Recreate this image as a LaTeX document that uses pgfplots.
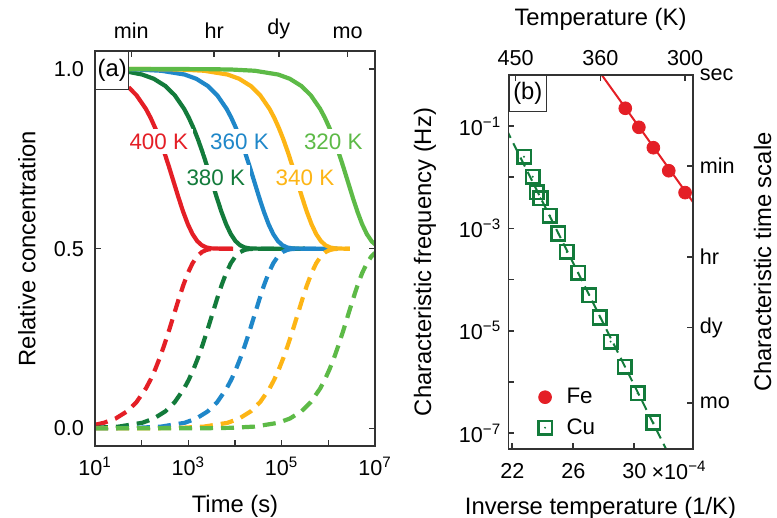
\documentclass[border=0pt]{standalone}
\usepackage{fontspec}
\setmainfont{Liberation Sans}
\usepackage{pgfplots}
\pgfplotsset{compat=1.18}

\definecolor{cRed}{HTML}{E41F26}
\definecolor{cDkGreen}{HTML}{137B3B}
\definecolor{cBlue}{HTML}{1F87C9}
\definecolor{cOrange}{HTML}{FDB515}
\definecolor{cLtGreen}{HTML}{5DBA47}
\definecolor{cFrame}{HTML}{333333}

% open square with a centre dot (Cu markers)
\pgfdeclareplotmark{sqdot}{%
  \pgfpathrectangle{\pgfqpoint{-\pgfplotmarksize}{-\pgfplotmarksize}}{\pgfqpoint{2\pgfplotmarksize}{2\pgfplotmarksize}}%
  \pgfusepathqstroke
  \pgfpathcircle{\pgfpointorigin}{0.55pt}%
  \pgfusepathqfill}

\newcommand{\tickfont}{\fontsize{10.8}{12}\selectfont}
\newcommand{\labfont}{\fontsize{11.9}{14}\selectfont}
\newcommand{\annfont}{\fontsize{11.2}{13}\selectfont}

\pgfplotsset{
  common/.style={
    scale only axis, anchor=south west, clip mode=individual,
    axis line style={cFrame, line width=0.8pt},
    major tick style={cFrame, line width=0.8pt},
    tick align=inside, major tick length=3pt, minor tick length=0pt,
    tick label style={font=\tickfont, text=black},
    label style={font=\labfont},
  },
  sol/.style={line width=2.1pt},
  das/.style={line width=2.1pt, dash pattern=on 6.5pt off 4pt},
}

\begin{document}
\begin{tikzpicture}
\path[use as bounding box] (0,0) rectangle (388.5pt,259pt);

% ---------------- panel (a): relative concentration vs time ----------------
\begin{axis}[common,
  at={(47.5pt,36pt)}, width=140pt, height=197.5pt,
  xmin=1, xmax=7, ymin=-0.049, ymax=1.05,
  xtick={1,2,3,4,5,6,7},
  xticklabels={10\textsuperscript{1},,10\textsuperscript{3},,10\textsuperscript{5},,10\textsuperscript{7}},
  xticklabel style={yshift=-2pt},
  ytick={0,0.5,1}, yticklabels={0.0,0.5,1.0},
  yticklabel style={xshift=-2pt},
  xtick pos=left, ytick pos=both, yticklabel pos=left,
  xlabel={Time (s)}, ylabel={Relative concentration},
  xlabel style={at={(rel axis cs:0.5,-0.152)}, anchor=center},
  ylabel style={at={(rel axis cs:-0.2429,0.5)}, anchor=center},
]
% 400 K
\addplot[cRed, das] coordinates {(1.00,0.0101)(1.19,0.0155)(1.44,0.0273)(1.69,0.0476)(1.89,0.0733)(2.09,0.1110)(2.19,0.1355)(2.29,0.1642)(2.39,0.1971)(2.49,0.2340)(2.59,0.2740)(2.69,0.3160)(2.79,0.3580)(2.89,0.3975)(2.99,0.4320)(3.09,0.4594)(3.19,0.4788)(3.29,0.4906)(3.39,0.4967)(3.49,0.4991)(3.69,0.5000)(3.96,0.5000)};
\addplot[cRed, sol] coordinates {(1.72,0.9491)(1.89,0.9267)(2.09,0.8890)(2.19,0.8645)(2.29,0.8358)(2.39,0.8029)(2.49,0.7660)(2.59,0.7260)(2.69,0.6840)(2.79,0.6420)(2.89,0.6025)(2.99,0.5680)(3.09,0.5406)(3.19,0.5212)(3.29,0.5094)(3.39,0.5033)(3.49,0.5009)(3.69,0.5000)(3.96,0.5000)};
% 380 K
\addplot[cDkGreen, das] coordinates {(1.00,0.0016)(1.51,0.0050)(2.01,0.0155)(2.26,0.0273)(2.51,0.0476)(2.71,0.0733)(2.91,0.1110)(3.01,0.1355)(3.11,0.1642)(3.21,0.1971)(3.31,0.2340)(3.41,0.2740)(3.51,0.3160)(3.61,0.3580)(3.71,0.3975)(3.81,0.4320)(3.91,0.4594)(4.01,0.4788)(4.11,0.4906)(4.21,0.4967)(4.31,0.4991)(4.51,0.5000)(5.50,0.5000)};
\addplot[cDkGreen, sol] coordinates {(1.72,0.9920)(2.01,0.9845)(2.26,0.9727)(2.51,0.9524)(2.71,0.9267)(2.91,0.8890)(3.01,0.8645)(3.11,0.8358)(3.21,0.8029)(3.31,0.7660)(3.41,0.7260)(3.51,0.6840)(3.61,0.6420)(3.71,0.6025)(3.81,0.5680)(3.91,0.5406)(4.01,0.5212)(4.11,0.5094)(4.21,0.5033)(4.31,0.5009)(4.51,0.5000)(5.50,0.5000)};
% 360 K
\addplot[cBlue, das] coordinates {(1.00,0.0002)(1.42,0.0005)(1.92,0.0016)(2.42,0.0050)(2.92,0.0155)(3.17,0.0273)(3.42,0.0476)(3.62,0.0733)(3.82,0.1110)(3.92,0.1355)(4.02,0.1642)(4.12,0.1971)(4.22,0.2340)(4.32,0.2740)(4.42,0.3160)(4.52,0.3580)(4.62,0.3975)(4.72,0.4320)(4.82,0.4594)(4.92,0.4788)(5.02,0.4906)(5.12,0.4967)(5.22,0.4991)(5.42,0.5000)(6.20,0.5000)};
\addplot[cBlue, sol] coordinates {(1.72,0.9990)(1.92,0.9984)(2.42,0.9950)(2.92,0.9845)(3.17,0.9727)(3.42,0.9524)(3.62,0.9267)(3.82,0.8890)(3.92,0.8645)(4.02,0.8358)(4.12,0.8029)(4.22,0.7660)(4.32,0.7260)(4.42,0.6840)(4.52,0.6420)(4.62,0.6025)(4.72,0.5680)(4.82,0.5406)(4.92,0.5212)(5.02,0.5094)(5.12,0.5033)(5.22,0.5009)(5.42,0.5000)(6.20,0.5000)};
% 340 K
\addplot[cOrange, das] coordinates {(1.00,0.0000)(2.34,0.0005)(2.84,0.0016)(3.34,0.0050)(3.84,0.0155)(4.09,0.0273)(4.34,0.0476)(4.54,0.0733)(4.74,0.1110)(4.84,0.1355)(4.94,0.1642)(5.04,0.1971)(5.14,0.2340)(5.24,0.2740)(5.34,0.3160)(5.44,0.3580)(5.54,0.3975)(5.64,0.4320)(5.74,0.4594)(5.84,0.4788)(5.94,0.4906)(6.04,0.4967)(6.14,0.4991)(6.34,0.5000)(6.46,0.5000)};
\addplot[cOrange, sol] coordinates {(1.72,1.0000)(2.34,0.9995)(2.84,0.9984)(3.34,0.9950)(3.84,0.9845)(4.09,0.9727)(4.34,0.9524)(4.54,0.9267)(4.74,0.8890)(4.84,0.8645)(4.94,0.8358)(5.04,0.8029)(5.14,0.7660)(5.24,0.7260)(5.34,0.6840)(5.44,0.6420)(5.54,0.6025)(5.64,0.5680)(5.74,0.5406)(5.84,0.5212)(5.94,0.5094)(6.04,0.5033)(6.14,0.5009)(6.34,0.5000)(6.46,0.5000)};
% 320 K
\addplot[cLtGreen, das] coordinates {(1.00,0.0000)(3.425,0.0005)(3.925,0.0016)(4.425,0.0050)(4.925,0.0155)(5.175,0.0273)(5.425,0.0476)(5.625,0.0733)(5.825,0.1110)(5.925,0.1355)(6.025,0.1642)(6.125,0.1971)(6.225,0.2340)(6.325,0.2740)(6.425,0.3160)(6.525,0.3580)(6.625,0.3975)(6.725,0.4320)(6.825,0.4594)(6.925,0.4788)(7.000,0.4883)};
\addplot[cLtGreen, sol] coordinates {(1.72,1.0000)(3.425,0.9995)(3.925,0.9984)(4.425,0.9950)(4.925,0.9845)(5.175,0.9727)(5.425,0.9524)(5.625,0.9267)(5.825,0.8890)(5.925,0.8645)(6.025,0.8358)(6.125,0.8029)(6.225,0.7660)(6.325,0.7260)(6.425,0.6840)(6.525,0.6420)(6.625,0.6025)(6.725,0.5680)(6.825,0.5406)(6.925,0.5212)(7.000,0.5117)};

% temperature labels
\node[font=\annfont, text=cRed, fill=white, inner sep=2.5pt] at (axis cs:2.367,0.798) {400 K};
\node[font=\annfont, text=cBlue, fill=white, inner sep=2.5pt] at (axis cs:4.096,0.798) {360 K};
\node[font=\annfont, text=cLtGreen, fill=white, inner sep=2.5pt] at (axis cs:6.106,0.798) {320 K};
\node[font=\annfont, text=cDkGreen, fill=white, inner sep=2.5pt] at (axis cs:3.588,0.696) {380 K};
\node[font=\annfont, text=cOrange, fill=white, inner sep=2.5pt] at (axis cs:5.5,0.696) {340 K};
\node[draw=cFrame, line width=0.6pt, fill=white, anchor=north west, inner sep=0pt,
      minimum width=16.6pt, minimum height=19pt, font=\labfont] at (rel axis cs:0,1) {(a)};
\end{axis}

% top scale of panel (a): named time intervals
\begin{axis}[common,
  at={(47.5pt,36pt)}, width=140pt, height=197.5pt,
  xmin=1, xmax=7, ymin=-0.049, ymax=1.05,
  xtick={1.778,3.556,4.937,6.414}, xticklabels={min,hr,dy,mo},
  xticklabel style={yshift=2.5pt},
  xtick pos=right, xticklabel pos=right, ytick=\empty,
]
\end{axis}

% ---------------- panel (b): Arrhenius plot ----------------
\begin{axis}[common,
  at={(254.15pt,34.35pt)}, width=92.2pt, height=187.25pt,
  xmin=21.74, xmax=33.83, ymode=log, ymin=4.87e-8, ymax=1,
  xtick={22,26,30}, xticklabels={22,26,30},
  xticklabel style={yshift=-3.5pt},
  ytick={1e-7,1e-6,1e-5,1e-4,1e-3,1e-2,1e-1},
  yticklabels={10\textsuperscript{−7},,10\textsuperscript{−5},,10\textsuperscript{−3},,10\textsuperscript{−1}},
  xtick pos=left, ytick pos=left,
  xlabel={Inverse temperature (1/K)}, ylabel={Characteristic frequency (Hz)},
  xlabel style={at={(rel axis cs:0.5,-0.158)}, anchor=center},
  ylabel style={at={(rel axis cs:-0.4523,0.5)}, anchor=center},
  legend style={at={(0.07,0.0103)}, anchor=south west, draw=none, fill=none,
    font=\annfont, row sep=2pt},
  legend cell align=left,
  legend image code/.code={\path (0cm,0cm) (0.6cm,0cm);
    \draw[#1] plot coordinates {(0.3cm,0cm)};},
]
\addplot[cRed, line width=1pt, forget plot] coordinates {(27.5,1.41)(34.0,0.00283)};
\addplot[cDkGreen, line width=1pt, dash pattern=on 5pt off 3pt, forget plot] coordinates {(21.6,0.0877)(32.3,3.68e-8)};
\addplot[only marks, mark=*, mark size=3.2pt, color=cRed] coordinates {
  (29.41,0.222)(30.30,0.0944)(31.25,0.0377)(32.26,0.0134)(33.33,0.00501)};
\addplot[only marks, mark=sqdot, mark size=3.4pt, color=cDkGreen, mark options={line width=1.3pt, fill=cDkGreen}] coordinates {
  (22.77,0.0251)(23.34,0.01023)(23.62,0.00513)(23.85,0.00389)(24.47,0.00178)
  (25.02,7.94e-4)(25.57,3.47e-4)(26.33,1.35e-4)(27.05,5.01e-5)(27.75,1.82e-5)
  (28.45,6.17e-6)(29.39,2.0e-6)(30.22,6.03e-7)(31.25,1.62e-7)};
\legend{Fe,Cu}
\node[draw=cFrame, line width=0.6pt, fill=white, anchor=north west, inner sep=0pt,
      minimum width=18.9pt, minimum height=17.9pt, font=\labfont] at (rel axis cs:0,1) {(b)};
\node[font=\tickfont, anchor=base west, inner sep=0pt] at (rel axis cs:0.775,-0.08) {×10\textsuperscript{−4}};
\end{axis}

% top and right scales of panel (b)
\begin{axis}[common,
  at={(254.15pt,34.35pt)}, width=92.2pt, height=187.25pt,
  xmin=21.74, xmax=33.83, ymode=log, ymin=4.87e-8, ymax=1,
  xtick={22.222,27.778,33.333}, xticklabels={450,360,300},
  xticklabel style={yshift=1pt},
  ytick={1,1.6667e-2,2.7778e-4,1.1574e-5,3.8580e-7}, yticklabels={sec,min,hr,dy,mo},
  xtick pos=right, xticklabel pos=right, ytick pos=right, yticklabel pos=right,
  xlabel={Temperature (K)}, ylabel={Characteristic time scale},
  xlabel style={at={(rel axis cs:0.5,1.1469)}, anchor=center},
  ylabel style={at={(rel axis cs:1.3796,0.5)}, anchor=center},
]
\end{axis}
\end{tikzpicture}
\end{document}
